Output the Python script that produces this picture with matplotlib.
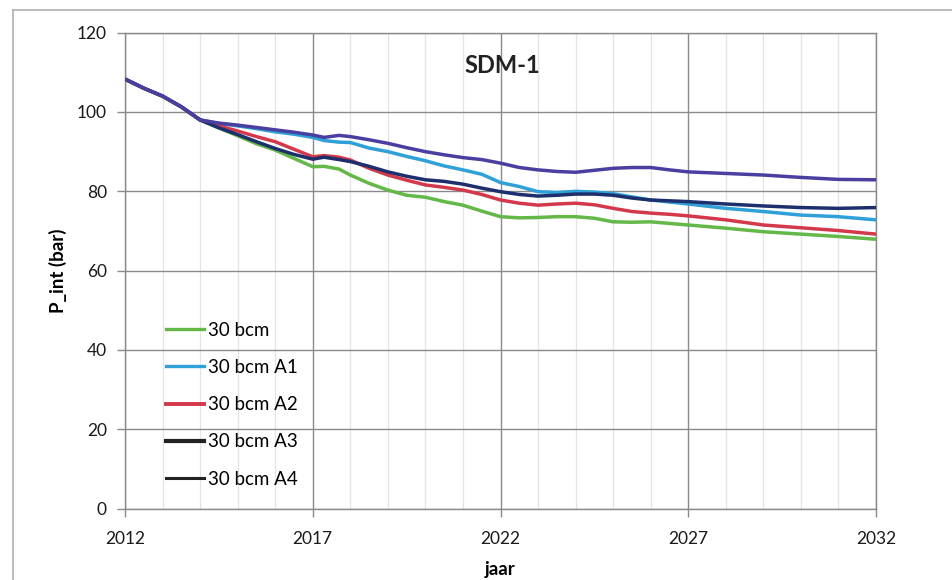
import matplotlib
matplotlib.use("Agg")
import matplotlib.pyplot as plt
from matplotlib.lines import Line2D
from matplotlib.ticker import MultipleLocator

plt.rcParams['font.family'] = ['Lato', 'DejaVu Sans']

years = [2012, 2012.5, 2013, 2013.5, 2014, 2014.5, 2015, 2015.5, 2016, 2016.5,
         2017, 2017.3, 2017.7, 2018, 2018.5, 2019, 2019.5, 2020, 2020.5, 2021,
         2021.5, 2022, 2022.5, 2023, 2023.5, 2024, 2024.5, 2025, 2025.5, 2026,
         2026.5, 2027, 2028, 2029, 2030, 2031, 2032]

p_30bcm = [108.3, 106.0, 104.0, 101.3, 98.0, 96.0, 94.0, 92.0, 90.4, 88.3,
           86.2, 86.3, 85.6, 84.1, 82.0, 80.3, 79.0, 78.5, 77.4, 76.5,
           75.0, 73.6, 73.3, 73.4, 73.6, 73.6, 73.2, 72.3, 72.2, 72.3,
           71.9, 71.5, 70.7, 69.8, 69.2, 68.6, 67.9]

p_a1 = [108.3, 106.0, 104.0, 101.3, 98.0, 97.1, 96.5, 95.8, 95.0, 94.4,
        93.6, 92.8, 92.4, 92.3, 90.9, 90.0, 88.8, 87.7, 86.4, 85.4,
        84.3, 82.2, 81.2, 79.9, 79.7, 80.0, 79.8, 79.4, 78.6, 77.8,
        77.3, 76.8, 75.7, 74.9, 74.0, 73.6, 72.8]

p_a2 = [108.3, 106.0, 104.0, 101.3, 98.0, 96.5, 95.2, 93.8, 92.5, 90.6,
        88.7, 89.0, 88.6, 87.9, 85.8, 84.1, 82.8, 81.6, 81.0, 80.3,
        79.2, 77.8, 77.0, 76.5, 76.8, 77.0, 76.6, 75.7, 74.9, 74.5,
        74.2, 73.8, 72.8, 71.5, 70.8, 70.1, 69.2]

p_a3 = [108.3, 106.0, 104.0, 101.3, 98.0, 96.0, 94.3, 92.5, 90.8, 89.3,
        88.1, 88.6, 88.0, 87.5, 86.3, 84.9, 83.8, 82.9, 82.5, 81.8,
        80.8, 79.9, 79.2, 78.8, 79.0, 79.3, 79.3, 79.0, 78.3, 77.8,
        77.6, 77.4, 76.8, 76.3, 75.9, 75.7, 75.9]

p_a4 = [108.3, 106.0, 104.0, 101.3, 98.0, 97.2, 96.7, 96.1, 95.5, 94.9,
        94.2, 93.6, 94.1, 93.8, 93.0, 92.1, 91.0, 90.0, 89.2, 88.5,
        88.0, 87.1, 86.0, 85.4, 85.0, 84.8, 85.3, 85.8, 86.0, 86.0,
        85.4, 84.9, 84.5, 84.1, 83.5, 83.0, 82.9]

labels = ["30 bcm", "30 bcm A1", "30 bcm A2", "30 bcm A3", "30 bcm A4"]
y_ticks = [0, 20, 40, 60, 80, 100, 120]
x_ticks = [2012, 2017, 2022, 2027, 2032]

line_colors = ["#63B848", "#2FA0D8", "#D3394A", "#1E2F6E", "#4A3FA0"]
legend_colors = ["#63B848", "#2FA0D8", "#D3394A", "#222222", "#222222"]
legend_widths = [2.4, 2.4, 2.8, 3.0, 2.2]

fig = plt.figure(figsize=(9.53, 5.80), dpi=100)
ax = fig.add_axes([125/953, 1 - 508.5/580, (876 - 125)/953, (508.5 - 32.7)/580])

series = [p_30bcm, p_a2, p_a1, p_a3, p_a4]
order = [0, 2, 1, 3, 4]
for s, idx in zip(series, order):
    ax.plot(years, s, color=line_colors[idx], lw=2.5, solid_capstyle='butt', zorder=3 + idx * 0.1)

ax.set_xlim(2012, 2032)
ax.set_ylim(0, 120)
ax.set_xticks(x_ticks)
ax.set_yticks(y_ticks)
ax.xaxis.set_minor_locator(MultipleLocator(1))
ax.grid(which='major', color='#8a8a8a', lw=1.0, zorder=1)
ax.grid(which='minor', axis='x', color='#e4e4e4', lw=0.9, zorder=0)
ax.tick_params(which='major', direction='out', length=6, width=1, color='#8a8a8a',
               labelsize=12.5, labelcolor='#1a1a1a')
ax.tick_params(axis='x', which='major', pad=10)
ax.tick_params(axis='y', which='major', pad=7)
ax.tick_params(which='minor', length=0)
for sp in ax.spines.values():
    sp.set_color('#8a8a8a')
    sp.set_linewidth(1.0)

ax.set_xlabel("jaar", fontsize=13.5, fontweight='bold', labelpad=10)
ax.set_ylabel("P_int (bar)", fontsize=13.5, fontweight='bold', labelpad=7)

ax.text(0.503, 0.932, "SDM-1", transform=ax.transAxes, ha='center', va='center',
        fontsize=17, fontweight='bold', color='#222222')

handles = [Line2D([0], [0], color=c, lw=w) for c, w in zip(legend_colors, legend_widths)]
leg = ax.legend(handles, labels, loc='lower left', bbox_to_anchor=(0.045, 0.028),
                frameon=False, fontsize=13.5, handlelength=2.0, handletextpad=0.25,
                labelspacing=1.08, borderaxespad=0)

fig.add_artist(Line2D([13/953, 13/953], [0, 1 - 10/580], color='#b0b0b0', lw=1.2,
                      transform=fig.transFigure))
fig.add_artist(Line2D([13/953, 1], [1 - 10/580, 1 - 10/580], color='#b0b0b0', lw=1.2,
                      transform=fig.transFigure))

fig.savefig("out.png", dpi=100)
